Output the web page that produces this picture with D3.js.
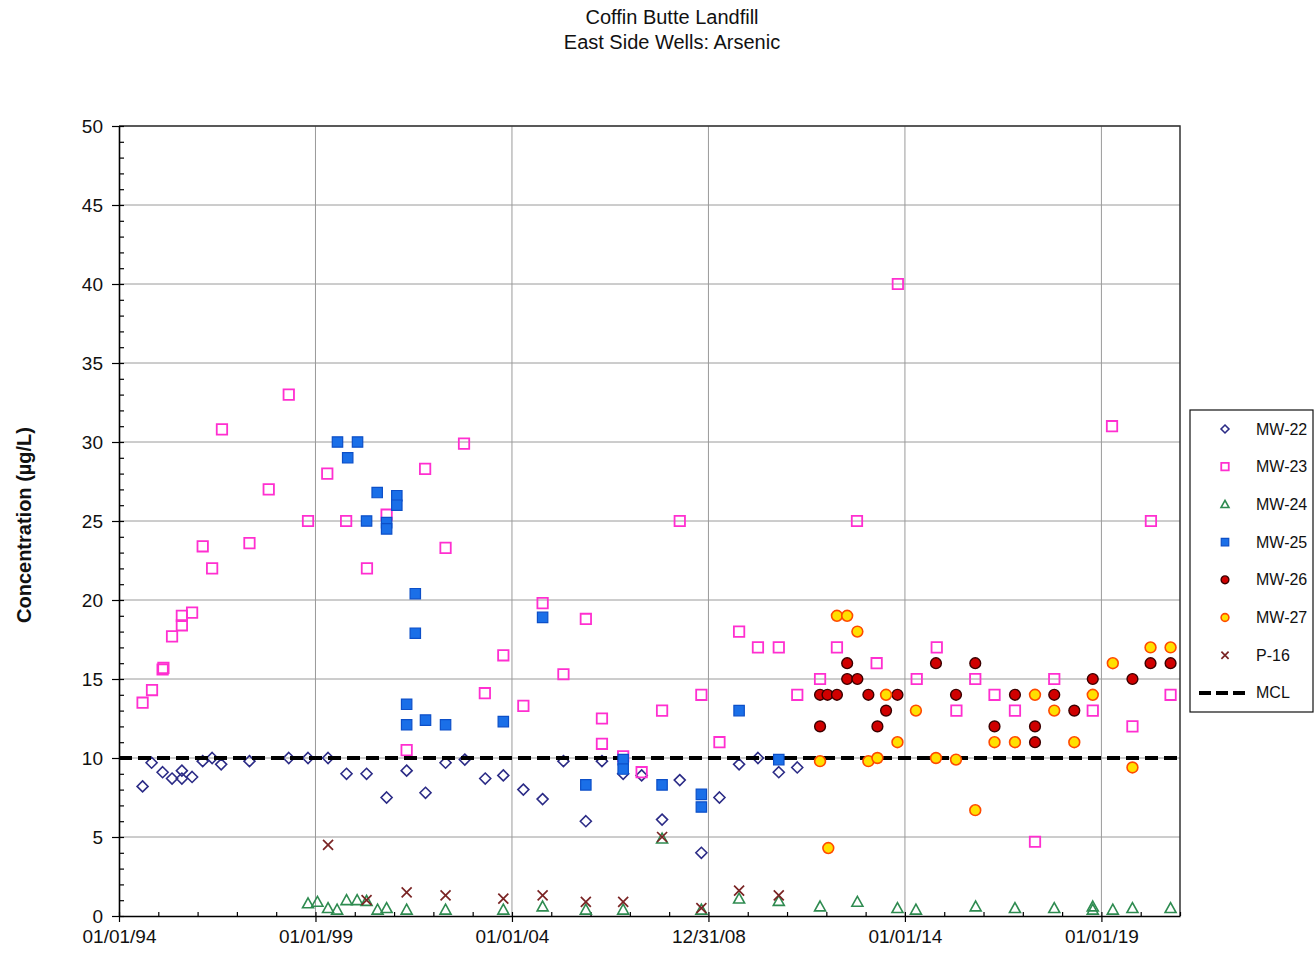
<!DOCTYPE html>
<html>
<head>
<meta charset="utf-8">
<script src="https://cdn.jsdelivr.net/npm/d3@7"></script>
<style>
  html, body { margin: 0; padding: 0; background: #fff; }
  svg { display: block; font-family: "Liberation Sans", Arial, sans-serif; }
</style>
</head>
<body>
<svg id="chart" width="1316" height="953"></svg>
<script>
// ---------------- DATA (x = decimal year, y = concentration µg/L) ----------------
const titleLines = ["Coffin Butte Landfill", "East Side Wells: Arsenic"];
const yAxisLabel = "Concentration (µg/L)";
const yTicks = [0, 5, 10, 15, 20, 25, 30, 35, 40, 45, 50];
const xTickYears = [1994, 1999, 2004, 2009, 2014, 2019];
const xTickLabels = ["01/01/94", "01/01/99", "01/01/04", "12/31/08", "01/01/14", "01/01/19"];
const mclValue = 10;

const mw22Years = [1994.60, 1994.83, 1995.11, 1995.35, 1995.60, 1995.60, 1995.86, 1996.13, 1996.37, 1996.60, 1997.32, 1998.32, 1998.81, 1999.32, 1999.79, 2000.30, 2000.81, 2001.32, 2001.80, 2002.31, 2002.80, 2003.32, 2003.78, 2004.29, 2004.78, 2005.31, 2005.88, 2006.29, 2006.83, 2007.30, 2007.82, 2008.27, 2008.82, 2009.28, 2009.78, 2010.26, 2010.79, 2011.26];
const mw22Values = [8.2, 9.7, 9.1, 8.7, 9.2, 8.7, 8.8, 9.8, 10.0, 9.6, 9.8, 10.0, 10.0, 10.0, 9.0, 9.0, 7.5, 9.2, 7.8, 9.7, 9.9, 8.7, 8.9, 8.0, 7.4, 9.8, 6.0, 9.8, 9.0, 8.9, 6.1, 8.6, 4.0, 7.5, 9.6, 10.0, 9.1, 9.4];

const mw23Years = [1994.60, 1994.84, 1995.11, 1995.13, 1995.35, 1995.60, 1995.60, 1995.86, 1996.13, 1996.37, 1996.62, 1997.32, 1997.81, 1998.32, 1998.81, 1999.30, 1999.78, 2000.31, 2000.81, 2001.32, 2001.79, 2002.31, 2002.78, 2003.31, 2003.78, 2004.29, 2004.78, 2005.31, 2005.88, 2006.29, 2006.29, 2006.83, 2007.30, 2007.82, 2008.27, 2008.82, 2009.28, 2009.78, 2010.26, 2010.79, 2011.26, 2011.84, 2012.27, 2012.78, 2013.28, 2013.82, 2014.30, 2014.81, 2015.31, 2015.79, 2016.28, 2016.80, 2017.31, 2017.80, 2018.78, 2019.27, 2019.79, 2020.26, 2020.76];
const mw23Values = [13.5, 14.3, 15.6, 15.7, 17.7, 18.4, 19.0, 19.2, 23.4, 22.0, 30.8, 23.6, 27.0, 33.0, 25.0, 28.0, 25.0, 22.0, 25.4, 10.5, 28.3, 23.3, 29.9, 14.1, 16.5, 13.3, 19.8, 15.3, 18.8, 12.5, 10.9, 10.1, 9.1, 13.0, 25.0, 14.0, 11.0, 18.0, 17.0, 17.0, 14.0, 15.0, 17.0, 25.0, 16.0, 40.0, 15.0, 17.0, 13.0, 15.0, 14.0, 13.0, 4.7, 15.0, 13.0, 31.0, 12.0, 25.0, 14.0];

const mw24Years = [1998.81, 1999.05, 1999.32, 1999.55, 1999.79, 2000.06, 2000.30, 2000.58, 2000.81, 2001.32, 2002.31, 2003.78, 2004.78, 2005.88, 2006.83, 2007.82, 2008.82, 2009.78, 2010.79, 2011.84, 2012.79, 2013.81, 2014.28, 2015.80, 2016.80, 2017.80, 2018.78, 2018.78, 2019.29, 2019.79, 2020.76];
const mw24Values = [0.8, 0.9, 0.5, 0.4, 1.0, 1.0, 0.95, 0.4, 0.5, 0.4, 0.4, 0.4, 0.6, 0.4, 0.4, 4.9, 0.4, 1.1, 0.95, 0.6, 0.9, 0.5, 0.4, 0.6, 0.5, 0.5, 0.4, 0.6, 0.4, 0.5, 0.5];

const mw25Years = [1999.56, 1999.82, 2000.07, 2000.30, 2000.57, 2000.81, 2000.81, 2001.07, 2001.07, 2001.54, 2001.54, 2001.32, 2001.32, 2001.80, 2002.31, 2003.78, 2004.78, 2005.88, 2006.83, 2006.83, 2007.82, 2008.82, 2008.82, 2009.78, 2010.79];
const mw25Values = [30.0, 29.0, 30.0, 25.0, 26.8, 24.9, 24.5, 26.6, 26.0, 20.4, 17.9, 13.4, 12.1, 12.4, 12.1, 12.3, 18.9, 8.3, 9.9, 9.3, 8.3, 7.7, 6.9, 13.0, 9.9];

const mw26Years = [2011.84, 2011.84, 2012.03, 2012.27, 2012.53, 2012.53, 2012.79, 2013.07, 2013.30, 2013.52, 2013.81, 2014.79, 2015.30, 2015.79, 2016.28, 2016.80, 2017.31, 2017.31, 2017.80, 2018.31, 2018.78, 2019.79, 2020.25, 2020.76];
const mw26Values = [14.0, 12.0, 14.0, 14.0, 16.0, 15.0, 15.0, 14.0, 12.0, 13.0, 14.0, 16.0, 14.0, 16.0, 12.0, 14.0, 12.0, 11.0, 14.0, 13.0, 15.0, 15.0, 16.0, 16.0];

const mw27Years = [2011.84, 2012.05, 2012.27, 2012.53, 2012.79, 2013.07, 2013.30, 2013.52, 2013.81, 2014.28, 2014.79, 2015.30, 2015.79, 2016.28, 2016.80, 2017.31, 2017.80, 2018.31, 2018.78, 2019.29, 2019.79, 2020.25, 2020.76];
const mw27Values = [9.8, 4.3, 19.0, 19.0, 18.0, 9.8, 10.0, 14.0, 11.0, 13.0, 10.0, 9.9, 6.7, 11.0, 11.0, 14.0, 13.0, 11.0, 14.0, 16.0, 9.4, 17.0, 17.0];

const p16Years = [1999.32, 2000.30, 2001.32, 2002.31, 2003.78, 2004.78, 2005.88, 2006.83, 2007.82, 2008.82, 2009.78, 2010.79];
const p16Values = [4.5, 1.0, 1.5, 1.3, 1.1, 1.3, 0.9, 0.9, 5.0, 0.5, 1.6, 1.3];

const seriesNames = ["MW-22", "MW-23", "MW-24", "MW-25", "MW-26", "MW-27", "P-16", "MCL"];

// ---------------- STYLES ----------------
const styles = {
  "MW-22": { shape: "diamond", fill: "none", stroke: "#2b2b86", sw: 1.6, size: 5.5 },
  "MW-23": { shape: "square", fill: "none", stroke: "#ff2fd0", sw: 1.8, size: 5.2 },
  "MW-24": { shape: "triangle", fill: "none", stroke: "#2e8b50", sw: 1.6, size: 5.5 },
  "MW-25": { shape: "square", fill: "#1a6fe8", stroke: "#0c4fc8", sw: 1.2, size: 5.2 },
  "MW-26": { shape: "circle", fill: "#d00000", stroke: "#3a0000", sw: 1.4, size: 5.4 },
  "MW-27": { shape: "circle", fill: "#ffe000", stroke: "#ff4a00", sw: 1.6, size: 5.4 },
  "P-16": { shape: "x", fill: "none", stroke: "#7a2424", sw: 1.7, size: 5 }
};

function symbolPath(shape, s) {
  switch (shape) {
    case "diamond": return `M0,${-s}L${s},0L0,${s}L${-s},0Z`;
    case "square": return `M${-s},${-s}H${s}V${s}H${-s}Z`;
    case "triangle": return `M0,${-s}L${s},${s * 0.8}L${-s},${s * 0.8}Z`;
    case "circle": return `M${s},0A${s},${s} 0 1,1 ${-s},0A${s},${s} 0 1,1 ${s},0Z`;
    case "x": return `M${-s},${-s}L${s},${s}M${s},${-s}L${-s},${s}`;
  }
}

// ---------------- LAYOUT ----------------
const svg = d3.select("#chart");
const pLeft = 119, pRight = 1180, pTop = 126, pBottom = 916;
const x = d3.scaleLinear().domain([1994, 2021]).range([pLeft, pRight]);
const y = d3.scaleLinear().domain([0, 50]).range([pBottom, pTop]);

svg.append("rect").attr("width", 1316).attr("height", 953).attr("fill", "#fff");

// Title
svg.selectAll("text.title").data(titleLines).join("text")
  .attr("class", "title")
  .attr("x", 672).attr("y", (d, i) => 24 + i * 25)
  .attr("text-anchor", "middle")
  .attr("font-size", 20)
  .attr("fill", "#111")
  .text(d => d);

// Grid
const grid = svg.append("g");
grid.selectAll("line.h").data(yTicks.filter(v => v > 0)).join("line")
  .attr("class", "h")
  .attr("x1", pLeft).attr("x2", pRight)
  .attr("y1", d => y(d)).attr("y2", d => y(d))
  .attr("stroke", "#9a9a9a").attr("stroke-width", 1);
grid.selectAll("line.v").data(xTickYears.slice(1)).join("line")
  .attr("class", "v")
  .attr("x1", d => x(d)).attr("x2", d => x(d))
  .attr("y1", pTop).attr("y2", pBottom)
  .attr("stroke", "#9a9a9a").attr("stroke-width", 1);
// Frame top/right
svg.append("path")
  .attr("d", `M${pLeft},${pTop}H${pRight}V${pBottom}`)
  .attr("fill", "none").attr("stroke", "#333").attr("stroke-width", 1.5);

// Axes
const minorY = d3.range(0, 51, 1);
const minorX = d3.range(1994, 2022, 1);

const yMinor = svg.append("g").attr("transform", `translate(${pLeft},0)`)
  .call(d3.axisLeft(y).tickValues(minorY).tickSize(-5).tickFormat(""));
yMinor.select(".domain").remove();
const yMajor = svg.append("g").attr("transform", `translate(${pLeft},0)`)
  .call(d3.axisLeft(y).tickValues(yTicks).tickSize(7).tickSizeOuter(0).tickPadding(9));
yMajor.selectAll("text").attr("font-size", 19).attr("fill", "#111")
  .attr("font-family", "'Liberation Sans', Arial, sans-serif");

const xMinor = svg.append("g").attr("transform", `translate(0,${pBottom})`)
  .call(d3.axisBottom(x).tickValues(minorX).tickSize(-4).tickFormat(""));
xMinor.select(".domain").remove();
const xMajor = svg.append("g").attr("transform", `translate(0,${pBottom})`)
  .call(d3.axisBottom(x).tickValues(xTickYears).tickSize(6).tickSizeOuter(0).tickPadding(8)
    .tickFormat((d, i) => xTickLabels[i]));
xMajor.selectAll("text").attr("font-size", 19).attr("fill", "#111")
  .attr("font-family", "'Liberation Sans', Arial, sans-serif");

svg.selectAll(".domain").attr("stroke", "#000").attr("stroke-width", 1.6);
svg.selectAll(".tick line").attr("stroke", "#000").attr("stroke-width", 1.2);

// Y label
svg.append("text")
  .attr("transform", "translate(31,525) rotate(-90)")
  .attr("text-anchor", "middle")
  .attr("font-size", 20).attr("font-weight", "bold").attr("fill", "#111")
  .text(yAxisLabel);

// Series drawing
function drawSeries(name, years, values) {
  const st = styles[name];
  const pts = years.map((yr, i) => ({ yr, v: values[i] }));
  svg.append("g").selectAll("path").data(pts).join("path")
    .attr("transform", d => `translate(${x(d.yr)},${y(d.v)})`)
    .attr("d", symbolPath(st.shape, st.size))
    .attr("fill", st.fill).attr("stroke", st.stroke).attr("stroke-width", st.sw);
}

drawSeries("MW-22", mw22Years, mw22Values);
drawSeries("MW-23", mw23Years, mw23Values);

// MCL line
svg.append("line")
  .attr("x1", x(1994)).attr("x2", x(2021))
  .attr("y1", y(mclValue)).attr("y2", y(mclValue))
  .attr("stroke", "#000").attr("stroke-width", 4).attr("stroke-dasharray", "13,6");

drawSeries("MW-24", mw24Years, mw24Values);
drawSeries("MW-25", mw25Years, mw25Values);
drawSeries("MW-26", mw26Years, mw26Values);
drawSeries("MW-27", mw27Years, mw27Values);
drawSeries("P-16", p16Years, p16Values);

// Legend
const lg = svg.append("g");
lg.append("rect").attr("x", 1190).attr("y", 410).attr("width", 123).attr("height", 302)
  .attr("fill", "#fff").attr("stroke", "#111").attr("stroke-width", 1.2);
seriesNames.forEach((name, i) => {
  const cy = 429 + i * 37.7;
  if (name === "MCL") {
    lg.append("line").attr("x1", 1199).attr("x2", 1247).attr("y1", cy).attr("y2", cy)
      .attr("stroke", "#000").attr("stroke-width", 4).attr("stroke-dasharray", "12,5");
  } else {
    const st = styles[name];
    lg.append("path")
      .attr("transform", `translate(1225,${cy})`)
      .attr("d", symbolPath(st.shape, st.size * 0.72))
      .attr("fill", st.fill).attr("stroke", st.stroke).attr("stroke-width", st.sw);
  }
  lg.append("text").attr("x", 1256).attr("y", cy + 5.5)
    .attr("font-size", 16).attr("fill", "#111").text(name);
});
</script>
</body>
</html>
